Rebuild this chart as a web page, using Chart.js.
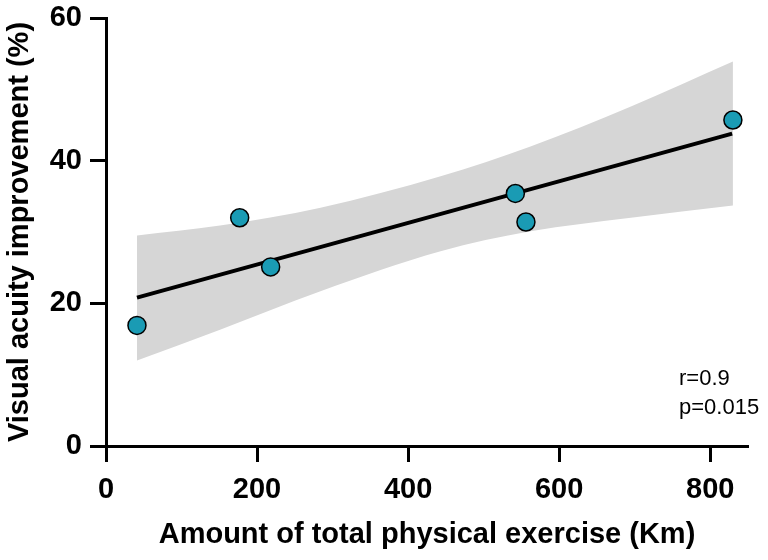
<!DOCTYPE html>
<html>
<head>
<meta charset="utf-8">
<script src="https://cdn.jsdelivr.net/npm/chart.js@4.4.1/dist/chart.umd.min.js"></script>
<style>
  html, body { margin: 0; padding: 0; background: #ffffff; }
  #wrap { width: 768px; height: 560px; }
</style>
</head>
<body>
<div id="wrap"><canvas id="c" width="768" height="560"></canvas></div>
<script>
// ---- data ----
const exerciseKm = [41, 177, 218, 542, 556, 830];
const acuityImprovement = [16.9, 32.0, 25.1, 35.4, 31.4, 45.7];

const fitLineX = [41, 829];
const fitLineY = [20.8, 43.8];

const bandX = [41, 151, 284, 443, 562, 695, 830];
const bandUpper = [29.5, 30.9, 33.4, 37.8, 42.0, 47.6, 53.9];
const bandLower = [12.0, 16.3, 21.7, 27.3, 30.1, 32.0, 33.7];

const xTicks = [0, 200, 400, 600, 800];
const yTicks = [0, 20, 40, 60];

const xTitle = 'Amount of total physical exercise (Km)';
const yTitle = 'Visual acuity improvement (%)';
const statLines = ['r=0.9', 'p=0.015'];

// ---- build chart ----
const toPts = (xs, ys) => xs.map((x, i) => ({ x: x, y: ys[i] }));
const FONT = "'Liberation Sans', Arial, sans-serif";

const statsPlugin = {
  id: 'stats',
  afterDatasetsDraw(chart) {
    const { ctx, chartArea } = chart;
    ctx.save();
    ctx.fillStyle = '#000';
    ctx.font = '22px ' + FONT;
    ctx.textAlign = 'left';
    ctx.textBaseline = 'alphabetic';
    statLines.forEach((t, i) => {
      ctx.fillText(t, chartArea.right - 69, chartArea.bottom - 61 + i * 29);
    });
    ctx.restore();
  }
};

new Chart(document.getElementById('c'), {
  type: 'scatter',
  data: {
    datasets: [
      {
        label: 'lower',
        data: toPts(bandX, bandLower),
        showLine: true,
        borderWidth: 0,
        borderColor: 'rgba(0,0,0,0)',
        pointRadius: 0,
        cubicInterpolationMode: 'monotone',
        fill: false,
        order: 4
      },
      {
        label: 'upper',
        data: toPts(bandX, bandUpper),
        showLine: true,
        borderWidth: 0,
        borderColor: 'rgba(0,0,0,0)',
        backgroundColor: '#d6d6d6',
        pointRadius: 0,
        cubicInterpolationMode: 'monotone',
        fill: 0,
        order: 3
      },
      {
        label: 'fit',
        data: toPts(fitLineX, fitLineY),
        showLine: true,
        borderColor: '#000',
        borderWidth: 4,
        pointRadius: 0,
        fill: false,
        order: 2
      },
      {
        label: 'data',
        data: toPts(exerciseKm, acuityImprovement),
        pointRadius: 9,
        pointBackgroundColor: '#1a9bb4',
        pointBorderColor: '#000',
        pointBorderWidth: 1.5,
        showLine: false,
        order: 1
      }
    ]
  },
  options: {
    responsive: false,
    animation: false,
    devicePixelRatio: 1,
    layout: { padding: { top: 18, right: 20, left: 0, bottom: 0 } },
    plugins: {
      legend: { display: false },
      tooltip: { enabled: false }
    },
    scales: {
      x: {
        type: 'linear',
        min: 0,
        max: 850,
        afterBuildTicks: (s) => { s.ticks = xTicks.map(v => ({ value: v })); },
        afterFit: (s) => { s.height = 114; s.paddingLeft = 0; s.paddingRight = 0; },
        border: { display: true, color: '#000', width: 3 },
        grid: { display: true, drawOnChartArea: false, drawTicks: true, tickLength: 16, tickWidth: 3, tickColor: '#000' },
        ticks: { color: '#000', font: { family: FONT, size: 29, weight: 'bold' }, padding: 11, maxRotation: 0 },
        title: { display: true, text: xTitle, color: '#000', font: { family: FONT, size: 29, weight: 'bold' }, padding: { top: 0, bottom: 8 } }
      },
      y: {
        type: 'linear',
        min: 0,
        max: 60,
        afterBuildTicks: (s) => { s.ticks = yTicks.map(v => ({ value: v })); },
        afterFit: (s) => { s.width = 106; s.paddingTop = 0; s.paddingBottom = 0; },
        border: { display: true, color: '#000', width: 3 },
        grid: { display: true, drawOnChartArea: false, drawTicks: true, tickLength: 16, tickWidth: 3, tickColor: '#000' },
        ticks: { color: '#000', font: { family: FONT, size: 29, weight: 'bold' }, padding: 8 },
        title: { display: true, text: yTitle, color: '#000', font: { family: FONT, size: 29, weight: 'bold' }, padding: { top: 3, bottom: 0 } }
      }
    }
  },
  plugins: [statsPlugin]
});
</script>
</body>
</html>
